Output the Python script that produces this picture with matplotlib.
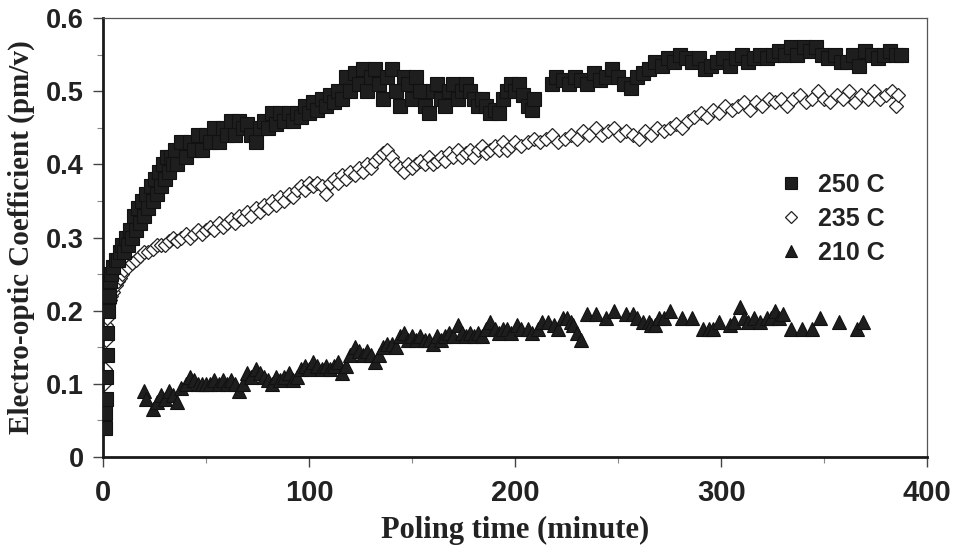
import numpy as np
import matplotlib.pyplot as plt
from matplotlib.ticker import MultipleLocator, FuncFormatter

# poling time (minute) and electro-optic coefficient (pm/v)
t250 = [1, 1, 1.5, 1.5, 2, 2, 2.5, 3, 3.5, 4, 5, 6, 7, 8, 9, 10, 11, 12, 13, 14,
        15, 16, 17, 18, 19, 20, 21, 22, 23, 24, 25, 26, 27, 28, 29, 30, 31, 32, 33, 34,
        35, 36, 38, 40, 42, 44, 46, 48, 50, 52, 54, 56, 58, 60, 62, 64, 66, 68, 70, 72,
        74, 76, 78, 80, 82, 84, 86, 88, 90, 92, 94, 96, 98, 100, 102, 104, 106, 108, 110, 112,
        114, 116, 118, 120, 122, 124, 126, 128, 130, 132, 134, 136, 138, 140, 142, 144, 146, 148, 150, 152,
        154, 156, 158, 160, 162, 164, 166, 168, 170, 172, 174, 176, 178, 180, 182, 184, 186, 188, 190, 192,
        194, 196, 198, 200, 202, 204, 206, 208, 209,
        218, 220, 223, 226, 229, 232, 235, 238, 241, 244, 247, 250, 253, 256, 259, 262, 265, 268, 271, 274,
        277, 280, 283, 286, 289, 292, 295, 298, 301, 304, 307, 310, 313, 316, 319, 322, 325, 328, 331, 334,
        337, 340, 343, 346, 349, 352, 355, 358, 361, 364, 367, 370, 373, 376, 379, 382, 385, 387]
k250 = [0.04, 0.06, 0.08, 0.11, 0.14, 0.17, 0.20, 0.22, 0.24, 0.25, 0.26, 0.27, 0.27, 0.28, 0.29, 0.28, 0.30, 0.29, 0.31, 0.30,
        0.33, 0.31, 0.34, 0.32, 0.35, 0.33, 0.36, 0.34, 0.37, 0.35, 0.38, 0.36, 0.39, 0.37, 0.40, 0.38, 0.41, 0.39, 0.41, 0.40,
        0.42, 0.40, 0.43, 0.41, 0.43, 0.42, 0.44, 0.42, 0.44, 0.43, 0.45, 0.43, 0.45, 0.44, 0.46, 0.44, 0.46, 0.45, 0.455, 0.44,
        0.43, 0.45, 0.46, 0.45, 0.47, 0.455, 0.47, 0.46, 0.47, 0.46, 0.47, 0.465, 0.48, 0.47, 0.485, 0.475, 0.49, 0.48, 0.495, 0.485,
        0.50, 0.49, 0.52, 0.50, 0.525, 0.51, 0.53, 0.50, 0.52, 0.53, 0.51, 0.49, 0.52, 0.53, 0.50, 0.48, 0.52, 0.51, 0.49, 0.52,
        0.50, 0.48, 0.47, 0.50, 0.51, 0.49, 0.48, 0.50, 0.51, 0.49, 0.50, 0.51, 0.50, 0.49, 0.48, 0.49, 0.48, 0.47, 0.475, 0.47,
        0.49, 0.50, 0.51, 0.50, 0.51, 0.495, 0.48, 0.475, 0.49,
        0.51, 0.52, 0.515, 0.51, 0.52, 0.515, 0.51, 0.525, 0.515, 0.52, 0.53, 0.52, 0.51, 0.505, 0.52, 0.525, 0.53, 0.54, 0.535, 0.545,
        0.54, 0.55, 0.545, 0.54, 0.545, 0.53, 0.535, 0.54, 0.545, 0.535, 0.545, 0.55, 0.54, 0.545, 0.55, 0.545, 0.55, 0.555, 0.55, 0.56,
        0.55, 0.56, 0.555, 0.56, 0.55, 0.545, 0.55, 0.54, 0.54, 0.55, 0.535, 0.555, 0.55, 0.545, 0.55, 0.555, 0.55, 0.55]

t235 = [0.5, 0.5, 1, 1, 1.5, 1.5, 2, 2.5, 3, 3.5, 4, 5, 6, 7, 8, 9, 10, 12, 14, 16,
        18, 20, 22, 24, 26, 28, 30, 32, 34, 36, 38, 40, 42, 44, 46, 48, 50, 52, 54, 56,
        58, 60, 62, 64, 66, 68, 70, 72, 74, 76, 78, 80, 82, 84, 86, 88, 90, 92, 94, 96,
        98, 100, 102, 104, 106, 108, 110, 112, 114, 116, 118, 120, 122, 124, 126, 128, 130, 132, 134, 136,
        138, 140, 142, 144, 146, 148, 150, 152, 154, 156, 158, 160, 162, 164, 166, 168, 170, 172, 174, 176,
        178, 180, 182, 184, 186, 188, 190, 192, 194, 196, 198, 200, 203, 206, 209, 212, 215, 218, 221, 224,
        227, 230, 233, 236, 239, 242, 245, 248, 251, 254, 257, 260, 263, 266, 269, 272, 275, 278, 281, 284,
        287, 290, 293, 296, 299, 302, 305, 308, 311, 314, 317, 320, 323, 326, 329, 332, 335, 338, 341, 344,
        347, 350, 353, 356, 359, 362, 365, 368, 371, 374, 377, 380, 383, 385, 386]
k235 = [0.08, 0.10, 0.12, 0.14, 0.16, 0.18, 0.19, 0.20, 0.21, 0.215, 0.22, 0.225, 0.235, 0.24, 0.245, 0.25, 0.255, 0.26, 0.265, 0.27,
        0.275, 0.28, 0.28, 0.285, 0.29, 0.29, 0.29, 0.295, 0.30, 0.295, 0.30, 0.305, 0.30, 0.305, 0.31, 0.305, 0.31, 0.315, 0.31, 0.32,
        0.315, 0.32, 0.325, 0.32, 0.33, 0.325, 0.335, 0.33, 0.34, 0.335, 0.345, 0.34, 0.35, 0.345, 0.355, 0.35, 0.36, 0.355, 0.365, 0.37,
        0.365, 0.375, 0.37, 0.375, 0.37, 0.36, 0.375, 0.38, 0.375, 0.385, 0.38, 0.39, 0.385, 0.395, 0.39, 0.40, 0.395, 0.405, 0.41, 0.415,
        0.42, 0.41, 0.40, 0.395, 0.39, 0.40, 0.395, 0.40, 0.405, 0.40, 0.41, 0.40, 0.405, 0.41, 0.405, 0.415, 0.41, 0.42, 0.41, 0.415,
        0.42, 0.41, 0.42, 0.425, 0.415, 0.42, 0.425, 0.42, 0.43, 0.42, 0.425, 0.43, 0.425, 0.43, 0.435, 0.43, 0.435, 0.44, 0.43, 0.435,
        0.44, 0.435, 0.445, 0.44, 0.45, 0.44, 0.445, 0.45, 0.44, 0.445, 0.44, 0.435, 0.445, 0.44, 0.45, 0.445, 0.45, 0.455, 0.45, 0.46,
        0.465, 0.47, 0.465, 0.475, 0.47, 0.48, 0.475, 0.48, 0.485, 0.475, 0.485, 0.48, 0.49, 0.485, 0.49, 0.48, 0.49, 0.495, 0.485, 0.49,
        0.50, 0.49, 0.485, 0.495, 0.49, 0.50, 0.485, 0.495, 0.49, 0.50, 0.49, 0.495, 0.50, 0.48, 0.495]

t210 = [20, 21, 24, 26, 28, 30, 32, 34, 36, 38, 40, 42, 44, 46, 48, 50, 52, 54, 56, 58,
        60, 62, 64, 66, 68, 70, 72, 74, 76, 78, 80, 82, 84, 86, 88, 90, 92, 94, 96, 98,
        100, 102, 104, 106, 108, 110, 112, 114, 116, 118, 120, 122, 124, 126, 128, 130, 132, 134, 136, 138,
        140, 142, 144, 146, 148, 150, 152, 154, 156, 158, 160, 162, 164, 166, 168, 170, 172, 174, 176, 178,
        180, 182, 184, 186, 188, 190, 192, 194, 196, 198, 201, 203, 206, 208, 211, 213, 216, 219, 221, 223,
        225, 227, 228, 230, 232, 235, 239, 244, 248, 254, 257, 259, 262, 265, 266, 268, 270, 272, 275, 281,
        286, 291, 294, 296, 299, 304, 306, 309, 311, 313, 316, 319, 322, 324, 326, 328, 330, 334, 339, 344,
        348, 357, 366, 369]
k210 = [0.09, 0.08, 0.065, 0.075, 0.085, 0.08, 0.09, 0.085, 0.075, 0.095, 0.10, 0.11, 0.105, 0.10, 0.10, 0.10, 0.10, 0.105, 0.10, 0.105,
        0.10, 0.105, 0.10, 0.09, 0.10, 0.115, 0.11, 0.12, 0.115, 0.11, 0.105, 0.10, 0.11, 0.105, 0.11, 0.115, 0.105, 0.11, 0.12, 0.125,
        0.12, 0.13, 0.125, 0.12, 0.125, 0.12, 0.125, 0.13, 0.115, 0.125, 0.14, 0.15, 0.145, 0.14, 0.145, 0.14, 0.13, 0.14, 0.15, 0.155,
        0.155, 0.15, 0.165, 0.17, 0.16, 0.165, 0.16, 0.165, 0.16, 0.16, 0.155, 0.165, 0.16, 0.165, 0.17, 0.165, 0.18, 0.17, 0.165, 0.17,
        0.165, 0.17, 0.165, 0.175, 0.185, 0.175, 0.17, 0.175, 0.175, 0.17, 0.18, 0.175, 0.175, 0.17, 0.175, 0.185, 0.185, 0.18, 0.175, 0.19,
        0.19, 0.185, 0.18, 0.17, 0.16, 0.195, 0.195, 0.19, 0.20, 0.195, 0.195, 0.19, 0.185, 0.185, 0.18, 0.18, 0.19, 0.19, 0.20, 0.19,
        0.19, 0.175, 0.175, 0.175, 0.185, 0.18, 0.185, 0.205, 0.19, 0.185, 0.19, 0.185, 0.19, 0.19, 0.20, 0.19, 0.195, 0.175, 0.175, 0.175,
        0.19, 0.185, 0.175, 0.185]

sans = ["Liberation Sans", "Arial", "DejaVu Sans"]
serif = ["Liberation Serif", "Times New Roman", "DejaVu Serif"]

fig, ax = plt.subplots(figsize=(9.55, 5.48), dpi=100)
fig.subplots_adjust(left=0.108, right=0.971, bottom=0.166, top=0.967)

ax.plot(t250, k250, ls="none", marker="s", ms=10, mfc="#1e1e1e", mec="#111111",
        mew=0.8, label="250 C", zorder=3)
ax.plot(t235, k235, ls="none", marker="D", ms=7.2, mfc="white", mec="#222222",
        mew=0.9, label="235 C", zorder=2)
ax.plot(t210, k210, ls="none", marker="^", ms=10, mfc="#1e1e1e", mec="#111111",
        mew=0.8, label="210 C", zorder=2)

ax.set_xlim(0, 400)
ax.set_ylim(0, 0.6)
ax.xaxis.set_major_locator(MultipleLocator(100))
ax.xaxis.set_minor_locator(MultipleLocator(50))
ax.yaxis.set_major_locator(MultipleLocator(0.1))
ax.yaxis.set_minor_locator(MultipleLocator(0.05))
ax.yaxis.set_major_formatter(FuncFormatter(lambda v, _: "0" if abs(v) < 1e-9 else f"{v:.1f}"))

ax.tick_params(which="major", direction="out", length=7, width=1, color="#444444")
ax.tick_params(which="minor", direction="out", length=4, width=0.8, color="#888888")
ax.tick_params(axis="y", pad=7)
ax.tick_params(axis="x", pad=9)
for lbl in ax.get_xticklabels():
    lbl.set_fontfamily(sans)
    lbl.set_fontweight("bold")
    lbl.set_fontsize(21)
    lbl.set_color("#222222")
for lbl in ax.get_yticklabels():
    lbl.set_fontfamily(sans)
    lbl.set_fontweight("bold")
    lbl.set_fontsize(19.5)
    lbl.set_color("#222222")

for side in ["left", "bottom"]:
    ax.spines[side].set_linewidth(2)
    ax.spines[side].set_color("#1a1a1a")
for side in ["top", "right"]:
    ax.spines[side].set_linewidth(0.9)
    ax.spines[side].set_color("#555555")

ax.set_xlabel("Poling time (minute)", fontfamily=serif, fontweight="bold",
              fontsize=22, color="#222222", labelpad=6)
ax.set_ylabel("Electro-optic Coefficient (pm/v)", fontfamily=serif, fontweight="bold",
              fontsize=21, color="#222222", labelpad=8)

leg = ax.legend(loc="upper left", bbox_to_anchor=(0.81, 0.67), frameon=False,
                prop={"family": sans, "weight": "bold", "size": 18},
                handlelength=0.8, handletextpad=0.7, labelspacing=0.4,
                borderaxespad=0, markerscale=0.8)
for txt in leg.get_texts():
    txt.set_color("#222222")

fig.savefig("out.png", dpi=100)
